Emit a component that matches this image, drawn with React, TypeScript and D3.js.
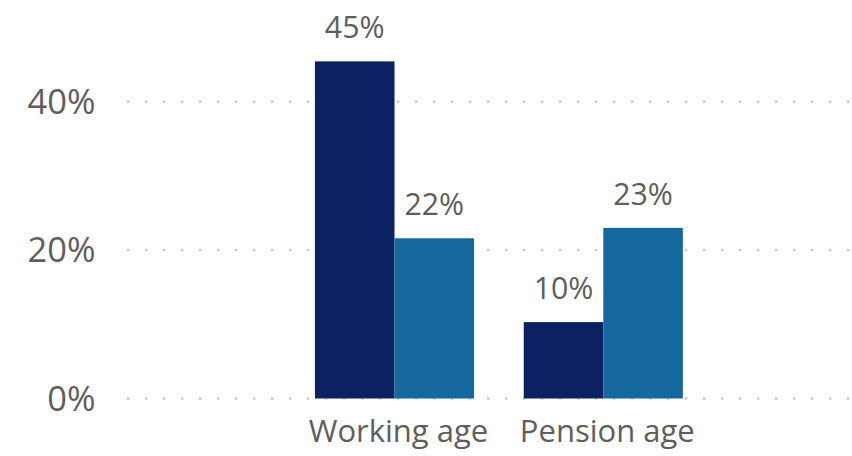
import React from "react";
import * as d3 from "d3";

const categories = ["Working age", "Pension age"];
const seriesNames = ["Series A", "Series B"];
const seriesA = [45.45, 10.3];
const seriesB = [21.6, 23.0];
const yTicks = [0, 20, 40];

const W = 852;
const H = 456;
const colors = ["#0C2163", "#15689D"];
const textColor = "#605E5C";
const fontFamily = "'Open Sans', 'Noto Sans', sans-serif";

export default function App() {
  const y = d3.scaleLinear().domain([0, 40]).range([398.5, 101.8]);
  const x0 = d3
    .scaleBand<string>()
    .domain(categories)
    .range([290.1, 707.7])
    .paddingInner(0.238)
    .paddingOuter(0.119);
  const x1 = d3
    .scaleBand<string>()
    .domain(seriesNames)
    .range([0, x0.bandwidth()]);
  const values = [seriesA, seriesB];
  const gridX0 = 127;
  const gridX1 = 850;

  return (
    <svg
      width={W}
      height={H}
      style={{ position: "absolute", left: 0, top: 0, background: "#fff" }}
    >
      <g>
        {yTicks.map((t) => (
          <g key={t}>
            <line
              x1={gridX0}
              x2={gridX1}
              y1={y(t)}
              y2={y(t)}
              stroke="#C8C8C8"
              strokeWidth={2.4}
              strokeDasharray="2.4 15.6"
            />
            <text
              x={95.5}
              y={y(t)}
              dy="0.357em"
              textAnchor="end"
              fontFamily={fontFamily}
              fontSize={34.5}
              fill={textColor}
            >
              {d3.format(".0f")(t) + "%"}
            </text>
          </g>
        ))}
      </g>
      <g>
        {categories.map((c, ci) => (
          <g key={c} transform={`translate(${x0(c)},0)`}>
            {seriesNames.map((s, si) => {
              const v = values[si][ci];
              const bx = x1(s)!;
              const bw = x1.bandwidth();
              return (
                <g key={s}>
                  <rect
                    x={bx}
                    y={y(v)}
                    width={bw}
                    height={y(0) - y(v)}
                    fill={colors[si]}
                  />
                  <text
                    x={bx + bw / 2}
                    y={y(v) - 23.3}
                    textAnchor="middle"
                    fontFamily={fontFamily}
                    fontSize={30.3}
                    fill={textColor}
                  >
                    {d3.format(".0f")(Math.floor(v + 0.5)) + "%"}
                  </text>
                </g>
              );
            })}
            <text
              x={x0.bandwidth() / 2 + 4}
              y={441.7}
              textAnchor="middle"
              fontFamily={fontFamily}
              fontSize={31}
              fill={textColor}
            >
              {c}
            </text>
          </g>
        ))}
      </g>
    </svg>
  );
}
